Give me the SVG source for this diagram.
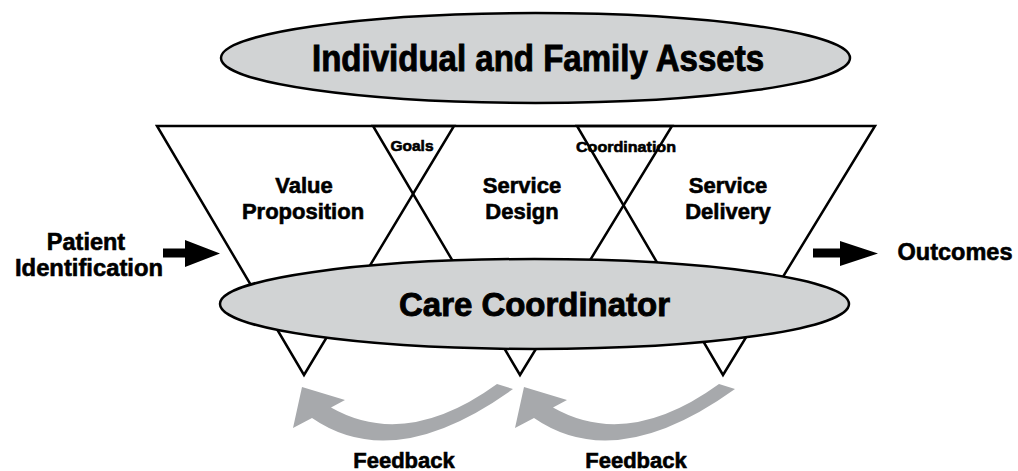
<svg xmlns="http://www.w3.org/2000/svg" width="1018" height="471" viewBox="0 0 1018 471">
<style>
.t{font-family:"Liberation Sans",Arial,sans-serif;font-weight:bold;fill:#000;stroke:#000;stroke-width:0.6;text-anchor:middle}
.big{stroke-width:0.9}
.tri{fill:none;stroke:#000;stroke-width:2.5;stroke-linejoin:miter}
.ell{fill:#d1d3d4;stroke:#000;stroke-width:2.5}
.fb{fill:#a7a9ac}
</style>
<defs>
<path id="fbarrow" d="M302,387 L345,400 L331,407.5 Q406,450 497,384 L513,389 Q394,474.5 312,418 L293,428 Z"/>
</defs>
<rect width="1018" height="471" fill="#fff"/>
<g id="funnels">
<polygon class="tri" points="157,126 454,126 304,375"/>
<polygon class="tri" points="373,126 672,126 520,375"/>
<polygon class="tri" points="577,126 875,126 723,375"/>
</g>
<g id="assets">
<ellipse class="ell" cx="535.5" cy="58" rx="314.5" ry="45"/>
<text class="t big" x="538" y="71" font-size="36" textLength="452" lengthAdjust="spacingAndGlyphs">Individual and Family Assets</text>
</g>
<g id="care-coordinator">
<ellipse class="ell" cx="534.5" cy="304" rx="314.5" ry="45"/>
<text class="t big" x="534.5" y="316" font-size="33" textLength="271" lengthAdjust="spacingAndGlyphs">Care Coordinator</text>
</g>
<g id="value-proposition">
<text class="t" x="304" y="193" font-size="22">Value</text>
<text class="t" x="303" y="219" font-size="22">Proposition</text>
</g>
<g id="service-design">
<text class="t" x="522" y="193" font-size="22">Service</text>
<text class="t" x="522" y="219" font-size="22">Design</text>
</g>
<g id="service-delivery">
<text class="t" x="728" y="193" font-size="22">Service</text>
<text class="t" x="728" y="219" font-size="22">Delivery</text>
</g>
<g id="goals">
<text class="t" x="412" y="151" font-size="15.5" stroke-width="0.4">Goals</text>
</g>
<g id="coordination">
<text class="t" x="626" y="152" font-size="15.5" stroke-width="0.4" textLength="100" lengthAdjust="spacingAndGlyphs">Coordination</text>
</g>
<g id="patient-identification">
<text class="t" x="86" y="250" font-size="23.5">Patient</text>
<text class="t" x="89" y="276" font-size="23.5" textLength="148" lengthAdjust="spacingAndGlyphs">Identification</text>
</g>
<g id="outcomes">
<text class="t" x="955" y="260" font-size="23.5">Outcomes</text>
</g>
<g id="feedback-1">
<text class="t" x="404" y="468" font-size="22">Feedback</text>
</g>
<g id="feedback-2">
<text class="t" x="636" y="468" font-size="22">Feedback</text>
</g>
<g id="connectors">
<polygon fill="#000" points="163,248.5 185,248.5 185,240 220,253.5 185,267 185,257.5 163,257.5"/>
<polygon fill="#000" points="813,248.5 840,248.5 840,241 878,253.5 840,266 840,257.5 813,257.5"/>
<use href="#fbarrow" class="fb"/>
<use href="#fbarrow" class="fb" transform="translate(222,0)"/>
</g>
</svg>
